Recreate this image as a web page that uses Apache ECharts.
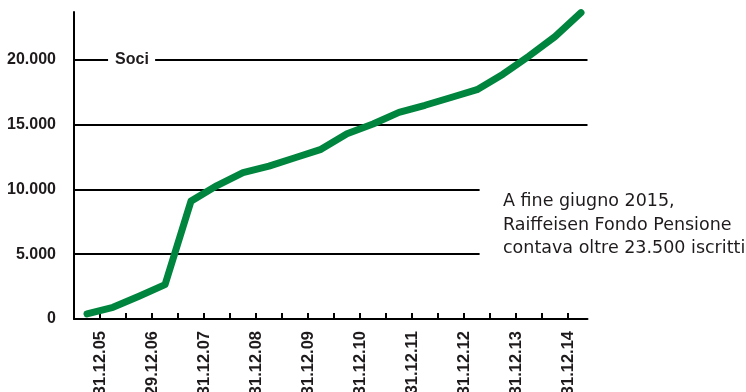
<!DOCTYPE html>
<html>
<head>
<meta charset="utf-8">
<script src="https://cdn.jsdelivr.net/npm/echarts@6/dist/echarts.min.js"></script>
<style>
  html, body { margin: 0; padding: 0; background: #ffffff; }
  #chart { width: 746px; height: 392px; }
</style>
</head>
<body>
<div id="chart"></div>
<script>
// Year-end labels shown under every second tick
var xLabels = ['31.12.05', '29.12.06', '31.12.07', '31.12.08', '31.12.09',
               '31.12.10', '31.12.11', '31.12.12', '31.12.13', '31.12.14'];
// Members (Soci), one reading per half-year
var soci = [400, 900, 1750, 2650, 9100, 10300, 11300, 11800, 12450, 13100,
            14300, 15050, 15950, 16500, 17100, 17700, 18900, 20300, 21800, 23650];
// Y tick labels
var yTicks = [0, 5000, 10000, 15000, 20000];
var seriesName = 'Soci';
var note = 'A fine giugno 2015,\nRaiffeisen Fondo Pensione\ncontava oltre 23.500 iscritti';

var INK = '#1f1b1c';
var GREEN = '#00853e';
var AXIS_FONT = '"Liberation Sans", Arial, sans-serif';

var chart = echarts.init(document.getElementById('chart'), null, { renderer: 'canvas' });

var points = soci.map(function (v, i) { return [i + 0.5, v]; });
var tickValues = [];
for (var t = 1; t <= 19; t++) tickValues.push(t);
var labelValues = xLabels.map(function (_, i) { return 1 + 2 * i; });

function fmtThousands(v) {
  return String(v).replace(/\B(?=(\d{3})+(?!\d))/g, '.');
}

var gridStyle = { color: '#000', width: 2, type: 'solid' };
var xMax = 19.75;
var shortEnd = 15.6;

var option = {
  animation: false,
  backgroundColor: '#ffffff',
  grid: { left: 74, right: 158.5, top: 12, bottom: 73, containLabel: false, outerBoundsMode: 'none' },
  xAxis: {
    type: 'value',
    min: 0,
    max: xMax,
    interval: 1,
    splitLine: { show: false },
    axisLine: { show: true, onZero: false, lineStyle: { color: '#000', width: 2 } },
    axisTick: { show: true, inside: true, length: 6, customValues: tickValues,
                lineStyle: { color: '#000', width: 2 } },
    axisLabel: {
      customValues: labelValues,
      rotate: 90,
      margin: 12,
      color: INK,
      fontFamily: AXIS_FONT,
      fontWeight: 'bold',
      fontSize: 16.5,
      formatter: function (v) {
        var idx = Math.round((v - 1) / 2);
        return xLabels[idx] || '';
      }
    }
  },
  yAxis: {
    type: 'value',
    min: 0,
    max: 23700,
    interval: 5000,
    splitLine: { show: false },
    axisTick: { show: false },
    axisLine: { show: true, lineStyle: { color: '#000', width: 2 } },
    axisLabel: {
      customValues: yTicks,
      margin: 18,
      color: INK,
      fontFamily: AXIS_FONT,
      fontWeight: 'bold',
      fontSize: 16,
      formatter: function (v) { return fmtThousands(v); }
    }
  },
  graphic: [{
    type: 'text',
    x: 503,
    y: 225,
    style: {
      text: note,
      fill: INK,
      fontFamily: '"DejaVu Sans", sans-serif',
      fontSize: 17.5,
      lineHeight: 23.5,
      verticalAlign: 'middle',
      align: 'left'
    }
  }],
  series: [
    {
      type: 'line',
      name: 'grid',
      data: [],
      z: 1,
      silent: true,
      markLine: {
        silent: true,
        symbol: ['none', 'none'],
        animation: false,
        lineStyle: gridStyle,
        label: { show: false },
        emphasis: { disabled: true },
        data: [
          [{ coord: [0, yTicks[1]] }, { coord: [shortEnd, yTicks[1]] }],
          [{ coord: [0, yTicks[2]] }, { coord: [shortEnd, yTicks[2]] }],
          [{ coord: [0, yTicks[3]] }, { coord: [xMax, yTicks[3]] }],
          [{ coord: [0, yTicks[4]],
             label: { show: true, position: 'end', distance: 7, formatter: seriesName,
                      color: INK, fontFamily: AXIS_FONT, fontWeight: 'bold', fontSize: 16 } },
           { coord: [1.31, yTicks[4]] }],
          [{ coord: [3.12, yTicks[4]] }, { coord: [xMax, yTicks[4]] }]
        ]
      }
    },
    {
      type: 'line',
      name: seriesName,
      data: points,
      z: 5,
      showSymbol: false,
      symbol: 'none',
      silent: true,
      lineStyle: { color: GREEN, width: 7, cap: 'round', join: 'round' }
    }
  ]
};

chart.setOption(option);
</script>
</body>
</html>
